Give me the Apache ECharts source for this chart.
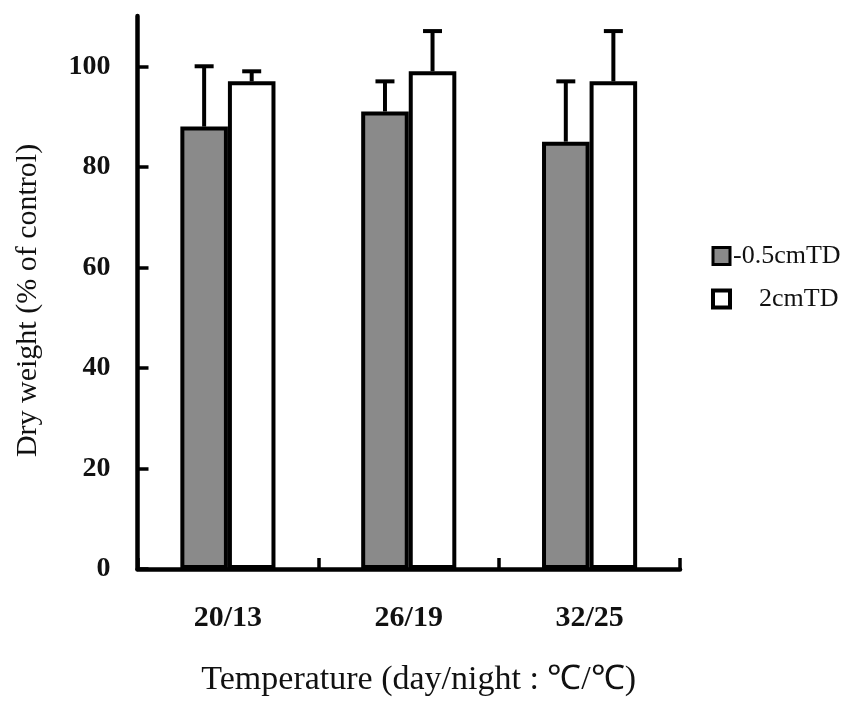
<!DOCTYPE html>
<html>
<head>
<meta charset="utf-8">
<script src="https://cdn.jsdelivr.net/npm/echarts@6/dist/echarts.min.js"></script>
<style>
html,body{margin:0;padding:0;background:#fff;}
#c{width:853px;height:702px;}
</style>
</head>
<body>
<div id="c"></div>
<script>
const categories = ['20/13', '26/19', '32/25'];
const seriesNames = ['-0.5cmTD', '2cmTD'];
const greyValues = [88, 91, 85];
const greyErrors = [12, 6, 12];
const whiteValues = [97, 99, 97];
const whiteErrors = [2, 8, 10];
const yTicks = [0, 20, 40, 60, 80, 100];

const FONT = 'Liberation Serif';
const INK = '#111';
const BAR_FRAC = 0.263;

function errData(vals, errs) {
  return vals.map((v, i) => [i, v, v + errs[i]]);
}

function makeErr(side) {
  return function (params, api) {
    const i = api.value(0);
    const top = api.coord([i, api.value(2)]);
    const base = api.coord([i, api.value(1)]);
    const bw = api.size([1, 0])[0] * BAR_FRAC;
    const x = top[0] + side * bw / 2;
    const capHalf = 9.5;
    return {
      type: 'group',
      children: [
        { type: 'line', shape: { x1: x, y1: base[1], x2: x, y2: top[1] },
          style: { stroke: '#000', lineWidth: 4 } },
        { type: 'line', shape: { x1: x - capHalf, y1: top[1], x2: x + capHalf, y2: top[1] },
          style: { stroke: '#000', lineWidth: 4 } }
      ]
    };
  };
}

const chart = echarts.init(document.getElementById('c'));
chart.setOption({
  animation: false,
  backgroundColor: '#fff',
  textStyle: { fontFamily: FONT, color: INK },
  grid: { left: 137.5, right: 173, top: 16, bottom: 131, containLabel: false },
  legend: {
    orient: 'vertical',
    left: 706,
    top: 238,
    itemWidth: 17,
    itemHeight: 17,
    itemGap: 17,
    icon: 'rect',
    data: [
      { name: seriesNames[0], itemStyle: { color: '#8a8a8a', borderColor: '#000', borderWidth: 3 } },
      { name: seriesNames[1], itemStyle: { color: '#fff', borderColor: '#000', borderWidth: 4 } }
    ],
    formatter: n => n === seriesNames[1] ? '    ' + n : n,
    textStyle: { fontFamily: FONT, fontSize: 26, color: INK, padding: [0, 0, 0, -2] }
  },
  xAxis: {
    type: 'category',
    data: categories,
    boundaryGap: true,
    name: 'Temperature (day/night : ℃/℃)',
    nameLocation: 'middle',
    nameGap: 94,
    nameTextStyle: { fontFamily: FONT, fontSize: 34, color: INK, padding: [0, 0, 0, 20] },
    axisLine: { show: true, lineStyle: { color: '#000', width: 4.5 } },
    axisTick: { show: true, inside: true, length: 11, lineStyle: { color: '#000', width: 3.5 } },
    axisLabel: { fontFamily: FONT, fontSize: 30, fontWeight: 'bold', color: INK, margin: 34 },
    splitLine: { show: false }
  },
  yAxis: {
    type: 'value',
    min: 0,
    max: 110,
    interval: 20,
    name: 'Dry weight (% of control)',
    nameLocation: 'middle',
    nameGap: 94,
    nameRotate: 90,
    nameTextStyle: { fontFamily: FONT, fontSize: 30, color: INK, padding: [0, 16, 0, 0] },
    axisLine: { show: true, lineStyle: { color: '#000', width: 4.5 } },
    axisTick: { show: true, inside: false, length: -11, customValues: yTicks, lineStyle: { color: '#000', width: 3.5 } },
    axisLabel: { fontFamily: FONT, fontSize: 28, fontWeight: 'bold', color: INK, margin: 27, customValues: yTicks },
    splitLine: { show: false }
  },
  series: [
    {
      name: seriesNames[0], type: 'bar', data: greyValues,
      barWidth: (BAR_FRAC * 100) + '%', barGap: '0%',
      itemStyle: { color: '#8a8a8a', borderColor: '#000', borderWidth: 4 },
      z: 2
    },
    {
      name: seriesNames[1], type: 'bar', data: whiteValues,
      barWidth: (BAR_FRAC * 100) + '%', barGap: '0%',
      itemStyle: { color: '#fff', borderColor: '#000', borderWidth: 4 },
      z: 2
    },
    {
      name: 'errGrey', type: 'custom', data: errData(greyValues, greyErrors),
      renderItem: makeErr(-1), z: 3, encode: { x: 0, y: [1, 2] }
    },
    {
      name: 'errWhite', type: 'custom', data: errData(whiteValues, whiteErrors),
      renderItem: makeErr(1), z: 3, encode: { x: 0, y: [1, 2] }
    }
  ]
});
</script>
</body>
</html>
